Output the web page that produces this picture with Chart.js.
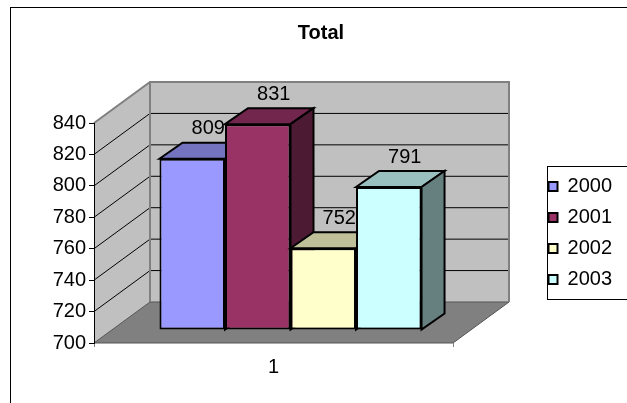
<!DOCTYPE html>
<html>
<head>
<meta charset="utf-8">
<script src="https://cdn.jsdelivr.net/npm/chart.js@4.4.1/dist/chart.umd.min.js"></script>
<style>
  html, body { margin: 0; padding: 0; background: #fff; }
</style>
</head>
<body>
<canvas id="chart" width="627" height="403"></canvas>
<script>
const categories = ['1'];
const seriesNames = ['2000', '2001', '2002', '2003'];
const values2000 = [809];
const values2001 = [831];
const values2002 = [752];
const values2003 = [791];
const yMin = 700;
const yMax = 840;
const yStep = 20;

const colors = ['#9999FF', '#993366', '#FFFFCC', '#CCFFFF'];
const FONT = 'Liberation Sans, Arial, sans-serif';

// 3d offsets (px)
const DEPTH = { x: 56, y: -41 };
const BAR_FRONT = { x: 17, y: -13 };
const BAR_DEPTH = { x: 23, y: -16 };

function shade(hex, f) {
  const n = parseInt(hex.slice(1), 16);
  const r = Math.round(((n >> 16) & 255) * f);
  const g = Math.round(((n >> 8) & 255) * f);
  const b = Math.round((n & 255) * f);
  return `rgb(${r},${g},${b})`;
}

function poly(ctx, pts, fill, stroke, lw) {
  ctx.beginPath();
  ctx.moveTo(pts[0][0], pts[0][1]);
  for (let i = 1; i < pts.length; i++) ctx.lineTo(pts[i][0], pts[i][1]);
  ctx.closePath();
  if (fill) { ctx.fillStyle = fill; ctx.fill(); }
  if (stroke) { ctx.strokeStyle = stroke; ctx.lineWidth = lw || 1; ctx.stroke(); }
}

const threeD = {
  id: 'threeD',
  beforeDraw(chart) {
    const { ctx, chartArea: a } = chart;
    const yScale = chart.scales.y;
    const L = a.left, R = a.right, T = a.top, B = a.bottom;
    const dx = DEPTH.x, dy = DEPTH.y;
    ctx.save();
    ctx.fillStyle = '#fff';
    ctx.fillRect(0, 0, chart.width, chart.height);
    ctx.strokeStyle = '#000';
    ctx.lineWidth = 1;
    ctx.strokeRect(10.5, 7.5, chart.width + 20, chart.height + 20);

    // walls and floor
    poly(ctx, [[L + dx, T + dy], [R + dx, T + dy], [R + dx, B + dy], [L + dx, B + dy]], '#C0C0C0');
    poly(ctx, [[L, T], [L + dx, T + dy], [L + dx, B + dy], [L, B]], '#C0C0C0');
    poly(ctx, [[L, B], [L + dx, B + dy], [R + dx, B + dy], [R, B]], '#808080', '#555', 1);

    // gridlines on the walls
    ctx.strokeStyle = '#000';
    ctx.lineWidth = 1;
    for (let v = yMin + yStep; v < yMax; v += yStep) {
      const y = yScale.getPixelForValue(v);
      ctx.beginPath();
      ctx.moveTo(L, y);
      ctx.lineTo(L + dx, y + dy);
      ctx.lineTo(R + dx, y + dy);
      ctx.stroke();
    }
    // wall edges
    ctx.strokeStyle = '#808080';
    ctx.lineWidth = 2;
    ctx.beginPath();
    ctx.moveTo(L, T);
    ctx.lineTo(L + dx, T + dy);
    ctx.lineTo(R + dx, T + dy);
    ctx.lineTo(R + dx, B + dy);
    ctx.moveTo(L + dx, T + dy);
    ctx.lineTo(L + dx, B + dy);
    ctx.stroke();
    ctx.restore();
  },
  beforeDatasetDraw() {
    return false;
  },
  afterDatasetsDraw(chart) {
    const ctx = chart.ctx;
    ctx.save();
    ctx.translate(BAR_FRONT.x, BAR_FRONT.y);
    chart.data.datasets.forEach((ds, i) => {
      chart.getDatasetMeta(i).data.forEach(bar => {
        const { x, y, base, width } = bar.getProps(['x', 'y', 'base', 'width'], true);
        const l = x - width / 2, r = x + width / 2;
        const bx = BAR_DEPTH.x, by = BAR_DEPTH.y;
        bar.draw(ctx);
        ctx.lineJoin = 'miter';
        poly(ctx, [[l, y], [l + bx, y + by], [r + bx, y + by], [r, y]], shade(colors[i], 0.75), '#000', 2);
        poly(ctx, [[r, y], [r + bx, y + by], [r + bx, base + by], [r, base]], shade(colors[i], 0.5), '#000', 2);
      });
    });
    ctx.restore();

    // value labels
    ctx.save();
    ctx.fillStyle = '#000';
    ctx.font = '20px ' + FONT;
    ctx.textAlign = 'center';
    ctx.textBaseline = 'middle';
    chart.data.datasets.forEach((ds, i) => {
      chart.getDatasetMeta(i).data.forEach((bar, j) => {
        ctx.fillText(String(ds.data[j]), bar.x + 33, bar.y - 43);
      });
    });
    ctx.restore();
  },
  afterDraw(chart) {
    const hb = chart.legend.legendHitBoxes;
    if (!hb || !hb.length) return;
    const ctx = chart.ctx;
    const last = hb[hb.length - 1];
    const top = Math.round(hb[0].top - 11);
    const bottom = Math.round(last.top + last.height + 9);
    ctx.save();
    ctx.strokeStyle = '#000';
    ctx.lineWidth = 1;
    ctx.strokeRect(Math.round(hb[0].left) - 1.5, top + 0.5, 200, bottom - top);
    ctx.restore();
  }
};

const seriesValues = [values2000, values2001, values2002, values2003];

new Chart(document.getElementById('chart'), {
  type: 'bar',
  data: {
    labels: categories,
    datasets: seriesNames.map((name, i) => ({
      label: name,
      data: seriesValues[i],
      base: yMin,
      backgroundColor: colors[i],
      borderColor: '#000',
      borderWidth: 2,
      borderSkipped: false,
      barPercentage: 1,
      categoryPercentage: 0.73
    }))
  },
  options: {
    responsive: false,
    animation: false,
    layout: { padding: { left: 20, right: 5, top: 0, bottom: 0 } },
    scales: {
      x: {
        offset: true,
        grid: { drawOnChartArea: false, offset: true, tickLength: 4, color: '#808080' },
        border: { display: false },
        ticks: { color: '#000', font: { family: FONT, size: 20 }, padding: 8 },
        afterFit(s) { s.height = 60; }
      },
      y: {
        min: yMin,
        max: yMax,
        grid: { drawOnChartArea: false, tickLength: 5, color: '#000' },
        border: { display: true, color: '#000', width: 1 },
        ticks: { stepSize: yStep, color: '#000', font: { family: FONT, size: 20 }, padding: 3 },
        afterFit(s) { s.width = 74; }
      },
      pad: {
        type: 'linear',
        position: 'right',
        display: true,
        grid: { display: false },
        border: { display: false },
        ticks: { display: false },
        afterFit(s) { s.width = 84.5; }
      }
    },
    plugins: {
      title: {
        display: true,
        text: 'Total',
        color: '#000',
        font: { family: FONT, size: 20, weight: 'bold' },
        padding: { top: 21.5, bottom: 77.5 }
      },
      legend: {
        position: 'right',
        fullSize: false,
        labels: {
          color: '#000',
          font: { family: FONT, size: 20 },
          boxWidth: 9,
          boxHeight: 9,
          padding: 11
        }
      },
      tooltip: { enabled: false }
    }
  },
  plugins: [threeD]
});
</script>
</body>
</html>
